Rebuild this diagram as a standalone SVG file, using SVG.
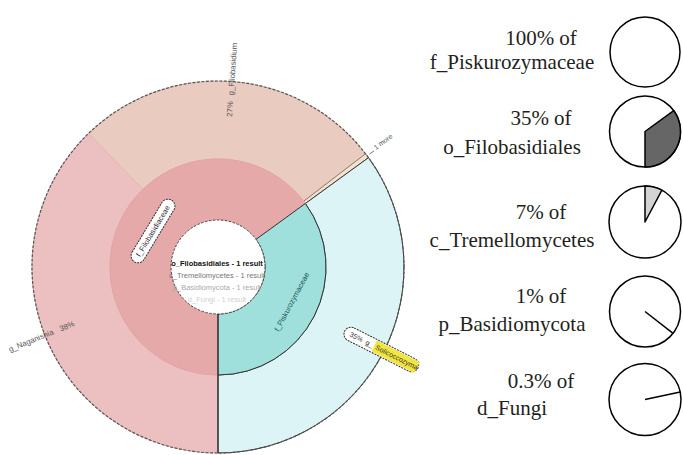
<svg xmlns="http://www.w3.org/2000/svg" width="683" height="455" viewBox="0 0 683 455">
<style>
.seg{stroke-width:1}
.lbl{font-family:"Liberation Sans",Arial,sans-serif;font-size:7.8px;fill:#555}
.ctr{font-family:"Liberation Sans",Arial,sans-serif;font-size:7.5px;text-anchor:middle}
.pill{fill:#fff;stroke:#333;stroke-width:1;stroke-dasharray:2 1}
.pie{fill:#fff;stroke:#000;stroke-width:1.5}
.cap{font-family:"Liberation Serif","Times New Roman",serif;font-size:21px;fill:#231f20;text-anchor:middle}
</style>
<rect width="683" height="455" fill="#fff"/>
<g id="sunburst">
  <g id="g_Naganishia"><path class="seg" d="M218,375 L218,453 A186,186 0 0 1 88.79,133.21 L142.97,189.32 A108,108 0 0 0 218,375 Z" fill="#ecc0c0" stroke="#e5b1b1"/></g>
  <g id="g_Filobasidium"><path class="seg" d="M142.97,189.32 L88.79,133.21 A186,186 0 0 1 365.57,153.76 L303.69,201.25 A108,108 0 0 0 142.97,189.32 Z" fill="#e9cbbf" stroke="#e0bdb0"/></g>
  <g id="more"><path class="seg" d="M303.69,201.25 L365.57,153.76 A186,186 0 0 1 368.47,157.67 L305.37,203.52 A108,108 0 0 0 303.69,201.25 Z" fill="#f3e2cf" stroke="#8a7a70"/></g>
  <g id="g_Solicoccozyma"><path class="seg" d="M305.37,203.52 L368.47,157.67 A186,186 0 0 1 218,453 L218,375 A108,108 0 0 0 305.37,203.52 Z" fill="#ddf4f6" stroke="#333"/></g>
  <g id="f_Filobasidiaceae"><path class="seg" d="M218,375 A108,108 0 1 1 305.37,203.52 L256.02,239.37 A47,47 0 1 0 218,314 Z" fill="#e6a9a9" stroke="#e3a3a3"/></g>
  <g id="f_Piskurozymaceae"><path class="seg" d="M256.02,239.37 L305.37,203.52 A108,108 0 0 1 218,375 L218,314 A47,47 0 0 0 256.02,239.37 Z" fill="#9fe0dc" stroke="#333"/></g>
  <circle cx="218" cy="267" r="186" fill="none" stroke="#555" stroke-width="1.2" stroke-dasharray="3 1.5"/>
  <g id="o_Filobasidiales"><circle cx="218" cy="267" r="47" fill="#fff" stroke="#444" stroke-width="1" stroke-dasharray="2.5 1.5"/></g>
  <line x1="218" y1="314" x2="218" y2="453" stroke="#333" stroke-width="1.2"/>
</g>
<g id="labels">
  <text class="lbl" transform="translate(232,117) rotate(-86)">27%<tspan dx="6">g_Filobasidium</tspan></text>
  <text class="lbl" transform="translate(10,352) rotate(-22)">g_Naganishia<tspan dx="7">38%</tspan></text>
  <line x1="369.5" y1="154" x2="374" y2="151" stroke="#555" stroke-width="0.8"/>
  <text class="lbl" transform="translate(376,150) rotate(-37)" style="font-size:6.8px">1 more</text>
  <g transform="translate(153,231) rotate(-59)">
    <rect class="pill" x="-36" y="-7" width="72" height="14" rx="7"/>
    <text x="0" y="2.5" style="font-family:'Liberation Sans',Arial,sans-serif;font-size:7.5px;fill:#333;text-anchor:middle">f_Filobasidiaceae</text>
  </g>
  <text transform="translate(294,303) rotate(-62)" style="font-family:'Liberation Sans',Arial,sans-serif;font-size:7.5px;fill:#1e5656;text-anchor:middle">f_Piskurozymaceae</text>
  <g transform="translate(218,267) rotate(26.8)">
    <rect class="pill" x="142" y="-7" width="82" height="14" rx="7"/>
    <rect x="175" y="-6" width="48" height="12" fill="#f2e63e"/>
    <text y="2.5" style="font-family:'Liberation Sans',Arial,sans-serif;font-size:7px;fill:#333"><tspan x="148">35%</tspan><tspan x="166">g_</tspan><tspan x="177">Solicoccozyma</tspan></text>
  </g>
  <text class="ctr" x="217" y="266" font-weight="bold" fill="#111">o_Filobasidiales - 1 result</text>
  <text class="ctr" x="217" y="278" fill="#777">c_Tremellomycetes - 1 result</text>
  <text class="ctr" x="217" y="290" fill="#aaa">p_Basidiomycota - 1 result</text>
  <text class="ctr" x="217" y="302" fill="#d0d0d0">d_Fungi - 1 result</text>
</g>
<g id="pies">
  <g id="pie1"><circle class="pie" cx="645" cy="52" r="35"/></g>
  <g id="pie2"><circle class="pie" cx="645" cy="131.5" r="35.5"/><path d="M645,131.5 L673.72,110.63 A35.5,35.5 0 0 1 645,167 Z" fill="#666" stroke="#000" stroke-width="1.5" stroke-linejoin="round"/></g>
  <g id="pie3"><circle class="pie" cx="645" cy="222" r="36"/><path d="M645,222 L645,186 A36,36 0 0 1 661.9,190.2 Z" fill="#d3d3d3" stroke="#000" stroke-width="1.5" stroke-linejoin="round"/></g>
  <g id="pie4"><circle class="pie" cx="645" cy="311.5" r="35.5"/><line x1="645" y1="311.5" x2="673.4" y2="333.7" stroke="#000" stroke-width="1.5"/></g>
  <g id="pie5"><circle class="pie" cx="645" cy="399.5" r="36"/><line x1="645" y1="399.5" x2="680.2" y2="392" stroke="#000" stroke-width="1.5"/></g>
</g>
<g id="captions">
  <text class="cap" x="541" y="45">100% of</text>
  <text class="cap" x="512" y="69">f_Piskurozymaceae</text>
  <text class="cap" x="541" y="125">35% of</text>
  <text class="cap" x="512" y="154">o_Filobasidiales</text>
  <text class="cap" x="541" y="219">7% of</text>
  <text class="cap" x="512" y="247">c_Tremellomycetes</text>
  <text class="cap" x="541" y="303">1% of</text>
  <text class="cap" x="512" y="331">p_Basidiomycota</text>
  <text class="cap" x="541" y="388">0.3% of</text>
  <text class="cap" x="512" y="415">d_Fungi</text>
</g>
</svg>
